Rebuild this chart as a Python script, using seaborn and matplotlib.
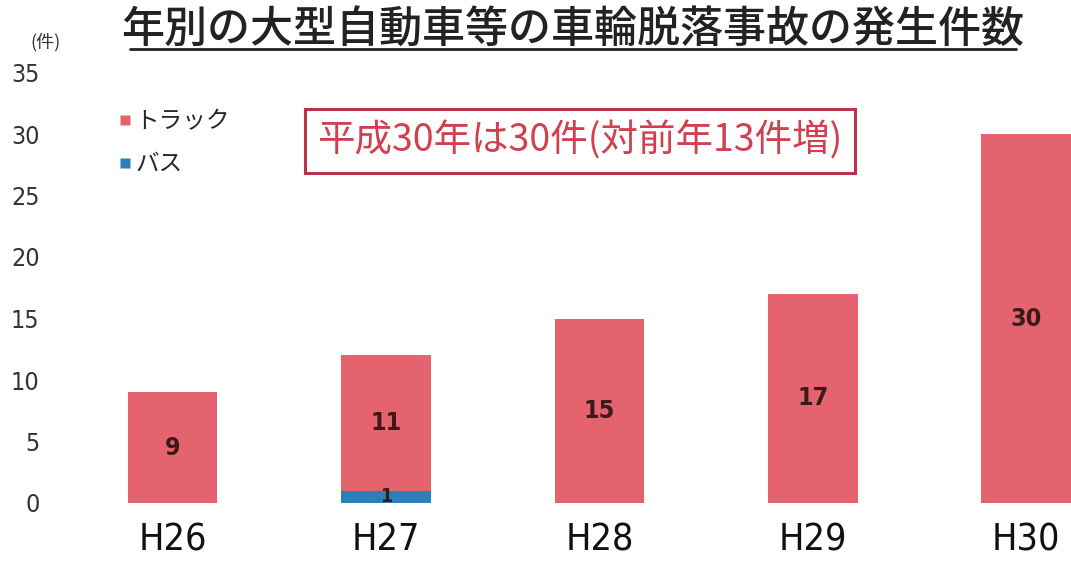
import matplotlib
matplotlib.use("Agg")
import matplotlib.pyplot as plt
import seaborn as sns
import pandas as pd
import numpy as np
from matplotlib.lines import Line2D

years = ["H26", "H27", "H28", "H29", "H30"]
truck = [9, 11, 15, 17, 30]
bus = [0, 1, 0, 0, 0]
y_ticks = [0, 5, 10, 15, 20, 25, 30, 35]

title = "年別の大型自動車等の車輪脱落事故の発生件数"
note = "平成30年は30件(対前年13件増)"
unit = "(件)"

sns.set_theme(style="white")
plt.rcParams['font.family'] = ['Noto Sans CJK JP', 'DejaVu Sans']

pink = "#E5636F"
blue = "#2B80B9"
NUM = ['DejaVu Sans']

df = pd.DataFrame({"year": years, "truck": truck, "bus": bus})
df["total"] = df["truck"] + df["bus"]

fig = plt.figure(figsize=(10.71, 5.72), dpi=100)
ax = fig.add_axes([66/1071, 1 - 503/572, 1 - 66/1071, (503 - 72.5)/572])

sns.barplot(data=df, x="year", y="total", color=pink, width=0.42, ax=ax,
            saturation=1, edgecolor="none")
sns.barplot(data=df, x="year", y="bus", color=blue, width=0.42, ax=ax,
            saturation=1, edgecolor="none")

ax.set_xlim(-0.5, 4.21)
ax.set_ylim(0, 35)
ax.set_yticks(y_ticks)
ax.set_yticklabels([str(t) for t in y_ticks], family=NUM, fontstretch="condensed",
                   fontsize=18, color="#333333")
ax.set_xticks(range(len(years)))
ax.set_xticklabels(years, family=NUM, fontstretch="condensed", fontsize=27, color="#111111")
ax.tick_params(axis='y', length=0, pad=19)
ax.tick_params(axis='x', length=0, pad=14)
ax.set_xlabel("")
ax.set_ylabel("")
for s in ax.spines.values():
    s.set_visible(False)

for i, (t, b) in enumerate(zip(truck, bus)):
    ax.text(i, b + t / 2, str(t), ha="center", va="center", family=NUM,
            fontstretch="condensed", fontsize=18, fontweight="bold", color="#3a1a1a")
    if b > 0:
        ax.text(i, b / 2, str(b), ha="center", va="center", family=NUM,
                fontstretch="condensed", fontsize=14, fontweight="bold", color="#3a1a1a")

# title with underline
fig.text(573/1071, 1 - 30/572, title, ha="center", va="center",
         fontsize=31, fontweight="medium", color="#222222")
fig.add_artist(Line2D([130/1071, 1016/1071], [1 - 49/572, 1 - 49/572],
                      color="#222222", lw=2))
fig.text(45/1071, 1 - 42/572, unit, ha="center", va="center", fontsize=13, color="#333333")

# note box
fig.text(580/1071, 1 - 141/572, note, ha="center", va="center", fontsize=27,
         color="#D0404E",
         bbox=dict(boxstyle="square,pad=0.33", facecolor="white",
                   edgecolor="#B8344A", linewidth=2.2))

handles = [Line2D([], [], marker="s", linestyle="none", markersize=7,
                  markerfacecolor=pink, markeredgecolor="none", label="トラック"),
           Line2D([], [], marker="s", linestyle="none", markersize=7,
                  markerfacecolor=blue, markeredgecolor="none", label="バス")]
leg = fig.legend(handles=handles, loc="upper left", bbox_to_anchor=(120/1071, 1 - 110/572),
                 frameon=False, fontsize=17, handlelength=0.45, handletextpad=0.2,
                 labelspacing=0.85, borderaxespad=0, borderpad=0)

fig.savefig("out.png", dpi=100, facecolor="white")
